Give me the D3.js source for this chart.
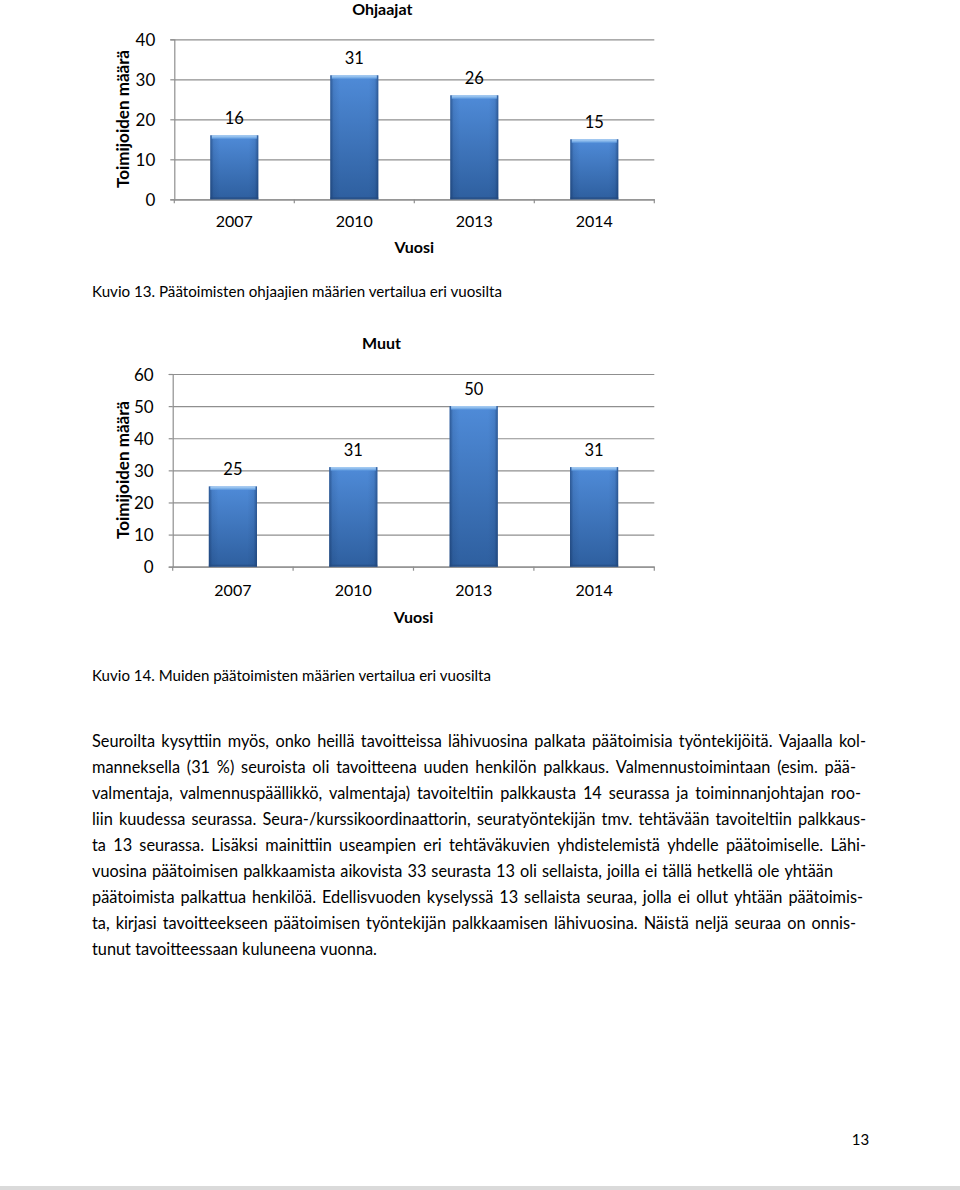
<!DOCTYPE html>
<html>
<head>
<meta charset="utf-8">
<script src="https://cdn.jsdelivr.net/npm/d3@7"></script>
<style>
  html, body { margin: 0; padding: 0; background: #fff; }
  svg { display: block; }
  text { font-family: Lato, "Open Sans", sans-serif; fill: #000; }
</style>
</head>
<body>
<svg id="page" width="960" height="1190"></svg>
<script>
// ---------- data ----------
const years = ["2007", "2010", "2013", "2014"];
const ohjaajatValues = [16, 31, 26, 15];
const muutValues = [25, 31, 50, 31];
const ohjaajatTicks = [0, 10, 20, 30, 40];
const muutTicks = [0, 10, 20, 30, 40, 50, 60];
const chartTitles = ["Ohjaajat", "Muut"];
const xTitle = "Vuosi";
const yTitle = "Toimijoiden määrä";
const captions = [
  "Kuvio 13. Päätoimisten ohjaajien määrien vertailua eri vuosilta",
  "Kuvio 14. Muiden päätoimisten määrien vertailua eri vuosilta"
];
const bodyLines = [
  "Seuroilta kysyttiin myös, onko heillä tavoitteissa lähivuosina palkata päätoimisia työntekijöitä. Vajaalla kol-",
  "manneksella (31 %) seuroista oli tavoitteena uuden henkilön palkkaus. Valmennustoimintaan (esim. pää-",
  "valmentaja, valmennuspäällikkö, valmentaja) tavoiteltiin palkkausta 14 seurassa ja toiminnanjohtajan roo-",
  "liin kuudessa seurassa. Seura-/kurssikoordinaattorin, seuratyöntekijän tmv. tehtävään tavoiteltiin palkkaus-",
  "ta 13 seurassa. Lisäksi mainittiin useampien eri tehtäväkuvien yhdistelemistä yhdelle päätoimiselle. Lähi-",
  "vuosina päätoimisen palkkaamista aikovista 33 seurasta 13 oli sellaista, joilla ei tällä hetkellä ole yhtään",
  "päätoimista palkattua henkilöä. Edellisvuoden kyselyssä 13 sellaista seuraa, jolla ei ollut yhtään päätoimis-",
  "ta, kirjasi tavoitteekseen päätoimisen työntekijän palkkaamisen lähivuosina. Näistä neljä seuraa on onnis-",
  "tunut tavoitteessaan kuluneena vuonna."
];
const pageNumber = "13";

// ---------- layout ----------
const svg = d3.select("#page");
svg.append("rect").attr("width", 960).attr("height", 1190).attr("fill", "#fff");

const defs = svg.append("defs");
const gV = defs.append("linearGradient").attr("id", "barV").attr("x1", 0).attr("y1", 0).attr("x2", 0).attr("y2", 1);
gV.append("stop").attr("offset", 0).attr("stop-color", "#4f8bd8");
gV.append("stop").attr("offset", 1).attr("stop-color", "#2e5f9f");
const gH = defs.append("linearGradient").attr("id", "barH").attr("x1", 0).attr("y1", 0).attr("x2", 1).attr("y2", 0);
[[0, 0.55], [0.07, 0.12], [0.2, 0], [0.8, 0], [0.93, 0.12], [1, 0.55]].forEach(([o, a]) =>
  gH.append("stop").attr("offset", o).attr("stop-color", "#12305e").attr("stop-opacity", a));
const gT = defs.append("linearGradient").attr("id", "barT").attr("x1", 0).attr("y1", 0).attr("x2", 0).attr("y2", 1);
gT.append("stop").attr("offset", 0).attr("stop-color", "#b3d6f7");
gT.append("stop").attr("offset", 1).attr("stop-color", "#5d99de");

const chartLayouts = [
  { values: ohjaajatValues, ticks: ohjaajatTicks, title: chartTitles[0],
    x0: 174.3, x1: 654.3, yTop: 39.3, yBot: 199.3, titleY: 14.5, xLabY: 227, xTitY: 253, yTitY: 119 },
  { values: muutValues, ticks: muutTicks, title: chartTitles[1],
    x0: 172.7, x1: 654.3, yTop: 374, yBot: 566.7, titleY: 349, xLabY: 596, xTitY: 623, yTitY: 470 }
];

const gridColor = "#8f8f8f";

chartLayouts.forEach(L => {
  const g = svg.append("g");
  const x = d3.scaleBand().domain(years).range([L.x0, L.x1]).paddingInner(0.6).paddingOuter(0.3);
  const y = d3.scaleLinear().domain([0, d3.max(L.ticks)]).range([L.yBot, L.yTop]);
  const w = L.x1 - L.x0;

  const yGrid = g.append("g").attr("transform", `translate(${L.x0},0)`)
    .call(d3.axisLeft(y).tickValues(L.ticks).tickSizeInner(-w).tickSizeOuter(0).tickFormat(""));
  yGrid.select(".domain").remove();
  yGrid.selectAll(".tick line").attr("stroke", gridColor).attr("stroke-width", 1.2);

  const yAxis = g.append("g").attr("transform", `translate(${L.x0},0)`)
    .call(d3.axisLeft(y).tickValues(L.ticks).tickSize(4).tickPadding(15).tickFormat(d3.format("d")));
  yAxis.select(".domain").attr("stroke", gridColor).attr("stroke-width", 1.2);
  yAxis.selectAll(".tick line").attr("stroke", gridColor).attr("stroke-width", 1.2);
  yAxis.selectAll(".tick text").attr("font-family", "Lato").attr("font-size", 17).attr("fill", "#000").attr("dy", "0.36em");

  const xAxis = g.append("g").attr("transform", `translate(0,${L.yBot})`)
    .call(d3.axisBottom(x).tickSize(0).tickPadding(0));
  xAxis.select(".domain").attr("stroke", gridColor).attr("stroke-width", 1.2);
  xAxis.selectAll(".tick text").attr("font-family", "Lato").attr("font-size", 16).attr("fill", "#000")
    .attr("y", L.xLabY - L.yBot).attr("dy", 0);
  const bounds = d3.range(years.length + 1).map(i => L.x0 + i * x.step());
  g.append("g").selectAll("line").data(bounds).join("line")
    .attr("x1", d => d).attr("x2", d => d).attr("y1", L.yBot).attr("y2", L.yBot + 4)
    .attr("stroke", gridColor).attr("stroke-width", 1.2);

  const bars = g.append("g").selectAll("g").data(L.values).join("g");
  bars.append("rect").attr("x", (d, i) => x(years[i])).attr("y", d => y(d))
    .attr("width", x.bandwidth()).attr("height", d => L.yBot - y(d)).attr("fill", "url(#barV)");
  bars.append("rect").attr("x", (d, i) => x(years[i])).attr("y", d => y(d))
    .attr("width", x.bandwidth()).attr("height", d => L.yBot - y(d)).attr("fill", "url(#barH)");
  bars.append("rect").attr("x", (d, i) => x(years[i]) + 1.5).attr("y", d => y(d))
    .attr("width", x.bandwidth() - 3).attr("height", 3.5).attr("fill", "url(#barT)");
  bars.append("rect").attr("x", (d, i) => x(years[i])).attr("y", L.yBot - 2)
    .attr("width", x.bandwidth()).attr("height", 2).attr("fill", "#24497d").attr("opacity", 0.6);

  g.append("g").selectAll("text").data(L.values).join("text")
    .attr("x", (d, i) => x(years[i]) + x.bandwidth() / 2)
    .attr("y", d => y(d) - 11)
    .attr("text-anchor", "middle").attr("font-size", 16.5)
    .text(d => d);

  g.append("text").attr("x", (L.x0 + L.x1) / 2 - 32).attr("y", L.titleY)
    .attr("text-anchor", "middle").attr("font-weight", "bold").attr("font-size", 16).text(L.title);
  g.append("text").attr("x", (L.x0 + L.x1) / 2).attr("y", L.xTitY)
    .attr("text-anchor", "middle").attr("font-weight", "bold").attr("font-size", 16).text(xTitle);
  g.append("text").attr("transform", `translate(129,${L.yTitY}) rotate(-90)`)
    .attr("text-anchor", "middle").attr("font-weight", "bold").attr("font-size", 17).text(yTitle);
});

// captions
const capLayout = [{ y: 296.5, w: 410 }, { y: 680.5, w: 399 }];
captions.forEach((c, i) => {
  svg.append("text").attr("x", 92).attr("y", capLayout[i].y).attr("font-size", 15)
    .attr("textLength", capLayout[i].w).attr("lengthAdjust", "spacingAndGlyphs").text(c);
});

// body text, justified; font size chosen so the densest line just fits
const bodyX = 92, bodyY0 = 746.5, bodyLH = 26.1;
const lineRight = [866, 856, 861, 866, 866, 833, 863, 856, null];
const probe = svg.append("text").attr("font-size", 10);
const natRatio = d3.min(bodyLines.map((line, li) => {
  if (lineRight[li] == null) return Infinity;
  probe.text(line);
  return (lineRight[li] - bodyX) / probe.node().getComputedTextLength();
}));
probe.remove();
const bodyFont = 10 * natRatio * 0.985;

bodyLines.forEach((line, li) => {
  const words = line.split(" ");
  const g = svg.append("g").attr("transform", `translate(${bodyX},${bodyY0 + li * bodyLH})`);
  const ts = words.map(wd => g.append("text").attr("font-size", bodyFont).text(wd));
  const widths = ts.map(t => t.node().getComputedTextLength());
  const t0 = g.append("text").attr("font-size", bodyFont).text("a a");
  const a = t0.node().getComputedTextLength(); t0.text("aa");
  const spaceW = a - t0.node().getComputedTextLength(); t0.remove();
  const sumW = d3.sum(widths);
  let gap = spaceW;
  if (lineRight[li] != null) gap = (lineRight[li] - bodyX - sumW) / (words.length - 1);
  let cx = 0;
  ts.forEach((t, i) => { t.attr("x", cx); cx += widths[i] + gap; });
});

// page number and bottom rule
svg.append("text").attr("x", 860.5).attr("y", 1145).attr("text-anchor", "middle").attr("font-size", 15).text(pageNumber);
svg.append("rect").attr("x", 0).attr("y", 1186).attr("width", 960).attr("height", 4).attr("fill", "#dadada");
</script>
</body>
</html>
